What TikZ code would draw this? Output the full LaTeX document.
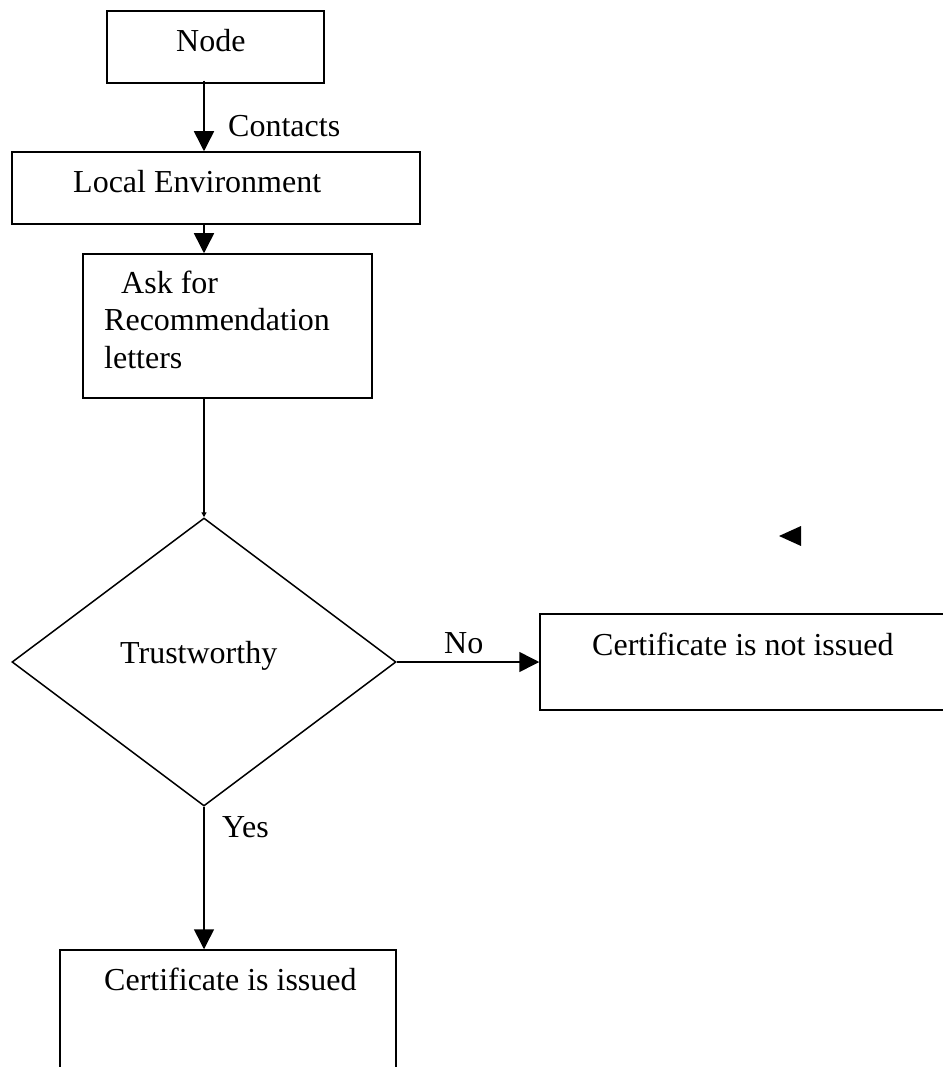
\documentclass[tikz,border=0pt]{standalone}
\usepackage{fontspec}
\setmainfont{Liberation Serif}
\usetikzlibrary{shapes.geometric,arrows.meta}
\begin{document}
\begin{tikzpicture}[x=1pt,y=-1pt,
  box/.style={draw,line width=1.5pt,inner sep=0pt,rectangle},
  dia/.style={draw,line width=1.5pt,inner sep=0pt,diamond},
  lbl/.style={anchor=base west,inner sep=0pt,font=\fontsize{32}{38}\selectfont},
  arr/.style={line width=1.5pt,-{Triangle[length=20pt,width=20pt]}},
  smallarr/.style={line width=1.5pt,-{Triangle[length=5pt,width=5pt]}}]
\useasboundingbox (0,0) rectangle (942,1067);
\coordinate (col) at (204,0);
% boxes
\node[box,minimum width=217pt,minimum height=72pt] (nodebox) at (215.5,47) {};
\node[box,minimum width=408pt,minimum height=72pt] (local) at (216,188) {};
\node[box,minimum width=289pt,minimum height=144pt] (ask) at (227.5,326) {};
\node[dia,minimum width=384pt,minimum height=288pt] (trust) at (204,662) {};
\node[box,minimum width=410pt,minimum height=96pt] (notissued) at (745,662) {};
\node[box,minimum width=336pt,minimum height=130pt] (issued) at (228,1015) {};
% texts
\node[lbl] (tnode) at (176,52) {Node};
\node[lbl] (tcontacts) at (228,137) {Contacts};
\node[lbl] (tlocal) at (73,193) {Local Environment};
\node[lbl] (task1) at (121,293) {Ask for};
\node[lbl] (task2) at (104,330) {Recommendation};
\node[lbl] (task3) at (104,368) {letters};
\node[lbl] (ttrust) at (120,663) {Trustworthy};
\node[lbl] (tno) at (444,653) {No};
\node[lbl] (tnot) at (592,655) {Certificate is not issued};
\node[lbl] (tyes) at (222,837) {Yes};
\node[lbl] (tiss) at (104,990) {Certificate is issued};
% connectors
\draw[arr] ([yshift=3pt]nodebox.south -| col) -- (local.north -| col);
\draw[arr] (local.south -| col) -- (ask.north -| col);
\draw[smallarr] (ask.south -| col) -- (trust.north);
\draw[arr] (trust.east) -- (notissued.west);
\draw[arr] (trust.south) -- (issued.north -| col);
% stray arrowhead
\fill (779,536) -- (801,526) -- (801,546) -- cycle;
\end{tikzpicture}
\end{document}
